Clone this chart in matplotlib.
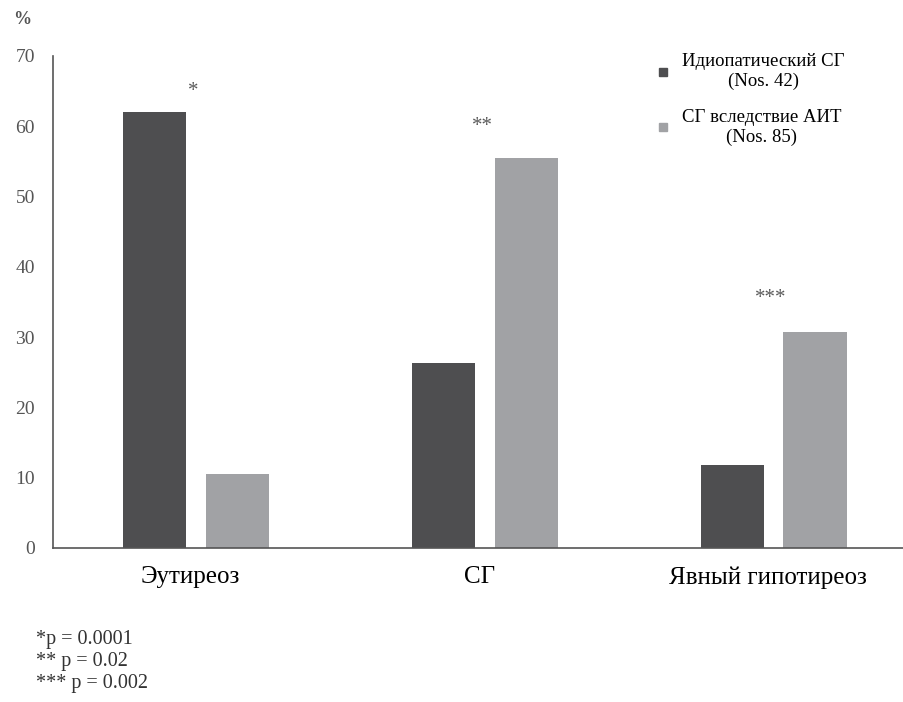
import matplotlib.pyplot as plt
from matplotlib.lines import Line2D
import numpy as np

plt.rcParams['font.family'] = ['Liberation Serif', 'DejaVu Serif']

# data
categories = ['Эутиреоз', 'СГ', 'Явный гипотиреоз']
idiopathic = [62.0, 26.3, 11.8]
ait = [10.5, 55.5, 30.7]
marks = ['*', '**', '***']
mark_y = [65.0, 60.0, 35.5]
series_labels = ['Идиопатический СГ\n(Nos. 42)', 'СГ вследствие АИТ\n(Nos. 85)']
footnotes = ['*p = 0.0001', '** p = 0.02', '*** p = 0.002']

dark = '#4e4e50'
light = '#a1a2a5'
text_gray = '#555555'

fig = plt.figure(figsize=(9.04, 7.02), dpi=100)
ax = fig.add_axes([0.0586, 0.2194, 0.9414, 0.7009])

x = np.arange(len(categories))
w = 0.22
off = 0.143
ax.bar(x - off, idiopathic, w, color=dark)
ax.bar(x + off, ait, w, color=light)

for xi, m, my in zip(x, marks, mark_y):
    ax.text(xi - 0.01, my, m, ha='center', va='center', fontsize=15, color='#5a5a5a')

ax.set_xlim(-0.495, 2.45)
ax.set_ylim(0, 70)
ax.set_yticks(range(0, 71, 10))
ax.tick_params(axis='y', length=0, pad=13, labelsize=14, labelcolor=text_gray)
ax.tick_params(axis='x', length=0, pad=13, labelsize=18)
ax.set_xticks(x - 0.02)
ax.set_xticklabels(categories)

for s in ['top', 'right']:
    ax.spines[s].set_visible(False)
ax.spines['left'].set_color('#555555')
ax.spines['bottom'].set_color('#555555')
ax.spines['left'].set_linewidth(1.2)
ax.spines['bottom'].set_linewidth(1.2)

fig.text(0.015, 0.972, '%', fontsize=13, color=text_gray, ha='left', va='center',
         fontweight='bold')

handles = [Line2D([], [], marker='s', linestyle='none', color=dark, markersize=6),
           Line2D([], [], marker='s', linestyle='none', color=light, markersize=6)]
leg = ax.legend(handles, series_labels, loc='upper right', bbox_to_anchor=(0.95, 1.04),
                frameon=False, fontsize=13.5, handletextpad=0.5, labelspacing=1.0,
                handlelength=1.0)
for t in leg.get_texts():
    t.set_multialignment('center')

for i, f in enumerate(footnotes):
    fig.text(0.04, 0.089 - i * 0.031, f, fontsize=14.5, color='#333333', ha='left',
             va='center')

fig.savefig('out.png', dpi=100)
